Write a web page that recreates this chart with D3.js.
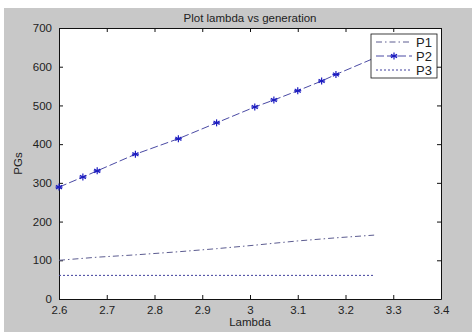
<!DOCTYPE html>
<html>
<head>
<meta charset="utf-8">
<script src="https://cdn.jsdelivr.net/npm/d3@7"></script>
<style>
  body { margin: 0; background: #fff; }
  text { font-family: "Liberation Sans", Arial, sans-serif; fill: #222; }
</style>
</head>
<body>
<div id="chart"></div>
<script>
/* Data */
var lambda = [2.6, 2.65, 2.68, 2.76, 2.85, 2.93, 3.01, 3.05, 3.1, 3.15, 3.18, 3.26];
var p1 = [100, 105, 108, 114, 122, 130, 139, 144, 150, 155, 158, 165];
var p2 = [289, 315, 331, 374, 414, 455, 496, 514, 538, 563, 580, 622];
var p3 = [61, 61, 61, 61, 61, 61, 61, 61, 61, 61, 61, 61];
var seriesNames = ["P1", "P2", "P3"];
var xTicks = [2.6, 2.7, 2.8, 2.9, 3, 3.1, 3.2, 3.3, 3.4];
var yTicks = [0, 100, 200, 300, 400, 500, 600, 700];

/* Overall SVG Container */
var inputWidth = 472,
    inputHeight = 334;

var margin = { top: 28, left: 59, right: 31, bottom: 35 },
    width = inputWidth - margin.left - margin.right,
    height = inputHeight - margin.top - margin.bottom;

var svg = d3.select("#chart")
    .append("svg")
    .attr("width", inputWidth)
    .attr("height", inputHeight);

/* Gray figure background */
svg.append("rect")
    .attr("x", 4)
    .attr("y", 8)
    .attr("width", inputWidth - 4)
    .attr("height", inputHeight - 10)
    .attr("fill", "#c8c8c8");

var x = d3.scaleLinear().domain([2.6, 3.4]).range([0, width]);
var y = d3.scaleLinear().domain([0, 700]).range([height, 0]);

var g = svg.append("g")
    .attr("transform", "translate(" + margin.left + "," + margin.top + ")");

g.append("rect")
    .attr("width", width)
    .attr("height", height)
    .attr("fill", "#fff");

/* Axes with inward ticks, mirrored on top and right */
var fmt = function(d) { return String(d); };
g.append("g").attr("transform", "translate(0," + height + ")")
    .call(d3.axisBottom(x).tickValues(xTicks).tickFormat(fmt).tickSizeInner(-4).tickSizeOuter(0).tickPadding(7));
g.append("g")
    .call(d3.axisTop(x).tickValues(xTicks).tickFormat("").tickSizeInner(-4).tickSizeOuter(0));
g.append("g")
    .call(d3.axisLeft(y).tickValues(yTicks).tickFormat(fmt).tickSizeInner(-4).tickSizeOuter(0).tickPadding(7));
g.append("g").attr("transform", "translate(" + width + ",0)")
    .call(d3.axisRight(y).tickValues(yTicks).tickFormat("").tickSizeInner(-4).tickSizeOuter(0));

g.selectAll(".domain").attr("stroke", "#111");
g.selectAll(".tick line").attr("stroke", "#111");
g.selectAll(".tick text").attr("font-size", 11.5).attr("fill", "#222")
    .attr("font-family", "Liberation Sans, Arial, sans-serif");

/* Lines */
var rows = lambda.map(function(l, i) { return { x: l, p1: p1[i], p2: p2[i], p3: p3[i] }; });

var styles = {
    P1: { key: "p1", color: "#5c5c90", dash: "6,3,1.5,3" },
    P2: { key: "p2", color: "#4a4aa4", dash: "8,3" },
    P3: { key: "p3", color: "#40409c", dash: "2,2" }
};

seriesNames.forEach(function(name) {
    var s = styles[name];
    var line = d3.line()
        .x(function(d) { return x(d.x); })
        .y(function(d) { return y(d[s.key]); });
    g.append("path")
        .datum(rows)
        .attr("fill", "none")
        .attr("stroke", s.color)
        .attr("stroke-width", 1)
        .attr("stroke-dasharray", s.dash)
        .attr("d", line);
});

/* Asterisk markers for P2 */
function star(sel, r, color) {
    [0, 60, 120].forEach(function(a) {
        sel.append("line")
            .attr("x1", 0).attr("y1", -r)
            .attr("x2", 0).attr("y2", r)
            .attr("transform", "rotate(" + a + ")")
            .attr("stroke", color).attr("stroke-width", 1.2);
    });
    sel.append("line")
        .attr("x1", -r).attr("y1", 0).attr("x2", r).attr("y2", 0)
        .attr("stroke", color).attr("stroke-width", 1.2);
}

g.selectAll(".mark")
    .data(rows.slice(0, rows.length - 1))
    .enter().append("g")
    .attr("class", "mark")
    .attr("transform", function(d) { return "translate(" + x(d.x) + "," + y(d.p2) + ")"; })
    .each(function() { star(d3.select(this), 3.5, "#1c1cc0"); });

/* Legend */
var legend = g.append("g").attr("transform", "translate(" + (width - 70) + ",6)");
legend.append("rect")
    .attr("width", 66)
    .attr("height", 44)
    .attr("fill", "#fff")
    .attr("stroke", "#111")
    .attr("stroke-width", 0.8);

seriesNames.forEach(function(name, i) {
    var s = styles[name];
    var row = legend.append("g").attr("transform", "translate(0," + (8 + i * 14) + ")");
    row.append("line")
        .attr("x1", 5).attr("x2", 41)
        .attr("stroke", s.color)
        .attr("stroke-dasharray", s.dash);
    if (name === "P2") {
        star(row.append("g").attr("transform", "translate(23,0)"), 3.5, "#1c1cc0");
    }
    row.append("text")
        .attr("x", 45)
        .attr("y", 4.5)
        .attr("font-size", 13)
        .text(name);
});

/* Title and axis labels */
svg.append("text")
    .attr("x", margin.left + width / 2)
    .attr("y", 22)
    .attr("text-anchor", "middle")
    .attr("font-size", 11.5)
    .text("Plot lambda vs generation");

svg.append("text")
    .attr("x", margin.left + width / 2)
    .attr("y", 326)
    .attr("text-anchor", "middle")
    .attr("font-size", 11.5)
    .text("Lambda");

svg.append("text")
    .attr("transform", "translate(22," + (margin.top + height / 2) + ") rotate(-90)")
    .attr("text-anchor", "middle")
    .attr("font-size", 11.5)
    .text("PGs");
</script>
</body>
</html>
